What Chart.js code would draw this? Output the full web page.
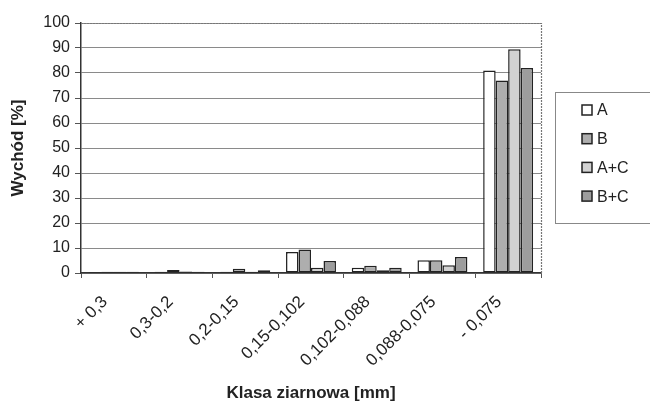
<!DOCTYPE html>
<html>
<head>
<meta charset="utf-8">
<script src="https://cdn.jsdelivr.net/npm/chart.js@4/dist/chart.umd.min.js"></script>
<style>
  html, body { margin: 0; padding: 0; background: #fff; }
  #wrap { width: 650px; height: 405px; }
</style>
</head>
<body>
<div id="wrap"><canvas id="c" width="650" height="405"></canvas></div>
<script>
// Grain-size classes and yield per sample [%]
const categories = ['+ 0,3', '0,3-0,2', '0,2-0,15', '0,15-0,102', '0,102-0,088', '0,088-0,075', '- 0,075'];
const seriesA  = [0.4, 0.5, 0.5, 8.4, 2.1, 5.1, 81.0];
const seriesB  = [0.5, 1.2, 1.7, 9.4, 2.9, 5.1, 77.0];
const seriesAC = [0.5, 0.6, 0.5, 2.1, 1.1, 3.1, 89.5];
const seriesBC = [0.5, 0.5, 1.1, 4.8, 2.1, 6.4, 82.0];
const seriesNames = ['A', 'B', 'A+C', 'B+C'];
const yTicks = [0, 10, 20, 30, 40, 50, 60, 70, 80, 90, 100];

const fills = ['#ffffff', '#aeaeae', '#d2d2d2', '#9d9d9d'];
const FONT = "'Liberation Sans', Arial, sans-serif";

// Plot frame: dotted top and right edges
const frame = {
  id: 'frame',
  beforeDatasetsDraw(chart) {
    const { ctx, chartArea: a } = chart;
    ctx.save();
    ctx.strokeStyle = '#777';
    ctx.lineWidth = 1.2;
    ctx.setLineDash([2, 1]);
    ctx.beginPath();
    ctx.moveTo(a.left, a.top + 0.5);
    ctx.lineTo(a.right + 0.5, a.top + 0.5);
    ctx.lineTo(a.right + 0.5, a.bottom);
    ctx.stroke();
    ctx.restore();
  }
};

// Boxed legend at the right
const boxLegend = {
  id: 'boxLegend',
  afterDraw(chart) {
    const { ctx } = chart;
    ctx.save();
    ctx.strokeStyle = '#888';
    ctx.lineWidth = 1;
    ctx.strokeRect(555.5, 92.5, 110, 131);
    ctx.font = '16px ' + FONT;
    ctx.textBaseline = 'middle';
    chart.data.datasets.forEach((ds, i) => {
      const y = 110 + i * 28.7;
      ctx.fillStyle = ds.backgroundColor;
      ctx.fillRect(582, y - 5, 10, 10);
      ctx.strokeStyle = '#222';
      ctx.lineWidth = 1.5;
      ctx.strokeRect(582, y - 5, 10, 10);
      ctx.fillStyle = '#222';
      ctx.fillText(ds.label, 597, y + 1);
    });
    ctx.restore();
  }
};

const makeSet = (i, data) => ({
  label: seriesNames[i],
  data,
  backgroundColor: fills[i],
  borderColor: '#222',
  borderWidth: 1.5,
  borderSkipped: false,
  categoryPercentage: 0.76,
  barPercentage: 1.0
});

new Chart(document.getElementById('c'), {
  type: 'bar',
  data: {
    labels: categories,
    datasets: [
      makeSet(0, seriesA),
      makeSet(1, seriesB),
      makeSet(2, seriesAC),
      makeSet(3, seriesBC)
    ]
  },
  options: {
    responsive: false,
    animation: false,
    devicePixelRatio: 1,
    layout: { padding: { left: 6, right: 109, top: 23, bottom: 0 } },
    plugins: {
      legend: { display: false },
      tooltip: { enabled: false }
    },
    scales: {
      x: {
        afterFit(s) { s.height = 132; },
        grid: {
          offset: true,
          drawOnChartArea: false,
          drawTicks: true,
          tickLength: 5,
          color: '#555'
        },
        border: { display: true, color: '#333', width: 1.5 },
        ticks: {
          minRotation: 45,
          maxRotation: 45,
          color: '#222',
          padding: 14,
          labelOffset: -9,
          font: { family: FONT, size: 17 }
        },
        title: {
          display: true,
          text: 'Klasa ziarnowa [mm]',
          color: '#222',
          padding: { top: 0, bottom: 1 },
          font: { family: FONT, size: 17, weight: 'bold' }
        }
      },
      y: {
        min: 0,
        max: 100,
        afterFit(s) { s.width = 75; },
        afterBuildTicks(s) { s.ticks = yTicks.map(v => ({ value: v })); },
        grid: {
          color: '#8a8a8a',
          lineWidth: 1,
          drawTicks: true,
          tickLength: 6,
          tickColor: '#555'
        },
        border: { display: true, color: '#333', width: 1.5 },
        ticks: {
          color: '#222',
          padding: 5,
          font: { family: FONT, size: 16 }
        },
        title: {
          display: true,
          text: 'Wychód [%]',
          color: '#222',
          padding: { top: 2, bottom: 0 },
          font: { family: FONT, size: 17, weight: 'bold' }
        }
      }
    }
  },
  plugins: [frame, boxLegend]
});
</script>
</body>
</html>
